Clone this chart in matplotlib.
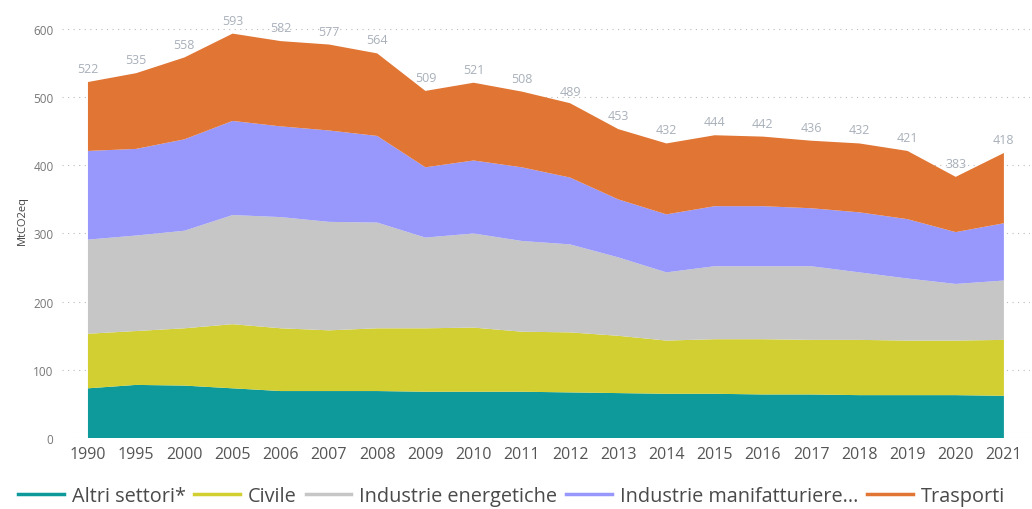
import numpy as np
import matplotlib.pyplot as plt
from matplotlib.lines import Line2D

plt.rcParams['font.family'] = ['Open Sans', 'DejaVu Sans']

# Dati (MtCO2eq)
anni = ['1990', '1995', '2000', '2005', '2006', '2007', '2008', '2009', '2010', '2011',
        '2012', '2013', '2014', '2015', '2016', '2017', '2018', '2019', '2020', '2021']
altri = [73, 78, 77, 73, 69, 69, 69, 68, 68, 68, 67, 66, 65, 65, 64, 64, 63, 63, 63, 62]
civile = [80, 79, 84, 94, 92, 89, 92, 93, 94, 88, 88, 84, 78, 80, 81, 80, 81, 80, 80, 82]
energetiche = [138, 140, 143, 160, 163, 159, 155, 133, 138, 133, 129, 115, 100, 107, 107, 108, 99, 91, 83, 87]
manifatturiere = [130, 127, 134, 138, 133, 134, 127, 103, 107, 108, 98, 85, 85, 88, 88, 85, 88, 87, 76, 84]
trasporti = [101, 111, 120, 128, 125, 126, 121, 112, 114, 111, 109, 103, 104, 104, 102, 99, 101, 100, 81, 103]
totali = [522, 535, 558, 593, 582, 577, 564, 509, 521, 508, 489, 453, 432, 444, 442, 436, 432, 421, 383, 418]

serie = ['Altri settori*', 'Civile', 'Industrie energetiche', 'Industrie manifatturiere...', 'Trasporti']
colori = ['#0E9A9A', '#D1CF32', '#C6C6C6', '#9898FC', '#E07534']

x = np.arange(len(anni))

fig = plt.figure(figsize=(10.32, 5.10), dpi=100)
ax = fig.add_axes([0.060, 0.139, 0.938, 0.856])

ax.stackplot(x, altri, civile, energetiche, manifatturiere, trasporti,
             colors=colori, linewidth=0)

# etichette dei totali
for xi, t in zip(x, totali):
    ax.annotate(str(t), (xi, t), xytext=(0, 5), textcoords='offset points',
                ha='center', va='bottom', fontsize=9, color='#A9B0BA')

ax.set_xlim(-0.54, len(anni) - 1 + 0.54)
ax.set_ylim(0, 640)
ax.set_yticks(range(0, 700, 100))
ax.set_xticks(x)
ax.set_xticklabels(anni)
ax.grid(axis='y', linestyle=(0, (1, 4)), color='#BBBBBB', linewidth=0.8)
ax.set_axisbelow(True)
for s in ax.spines.values():
    s.set_visible(False)
ax.tick_params(axis='y', length=0, labelsize=8.5, labelcolor='#777777', pad=6)
ax.tick_params(axis='x', length=0, labelsize=11.5, labelcolor='#555555', pad=6)
ax.set_ylabel('MtCO2eq', fontsize=8, color='#444444', labelpad=4)

handles = [Line2D([0], [0], color=c, lw=2.5) for c in colori]
fig.legend(handles, serie, loc='lower left', bbox_to_anchor=(0.0, -0.03), ncol=5,
           frameon=False, fontsize=14.3, handlelength=2.3, handletextpad=0.4,
           columnspacing=0.45, labelcolor='#4A4A4A')

fig.savefig('out.png', dpi=100)
